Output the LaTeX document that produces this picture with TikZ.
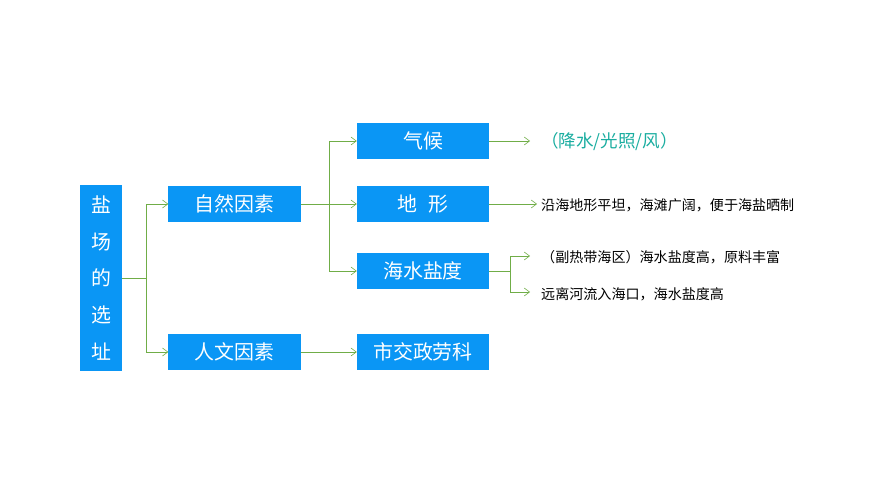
\documentclass[tikz,border=0pt]{standalone}
\usepackage{fontspec}
\setmainfont{Noto Sans CJK SC}
\usetikzlibrary{arrows.meta}
\definecolor{boxblue}{HTML}{0A96F5}
\definecolor{linegreen}{HTML}{70AD47}
\definecolor{noteteal}{HTML}{1AADA0}

\begin{document}
\begin{tikzpicture}[x=0.03cm,y=-0.03cm,>={Straight Barb[length=1.6mm,width=2.4mm]},
  box/.style={fill=boxblue,text=white,minimum width=3.96cm,minimum height=1.08cm,inner sep=0pt,font=\fontsize{17}{17}\selectfont},
  link/.style={draw=linegreen,line width=0.5pt},
  note/.style={anchor=west,inner sep=0pt,font=\fontsize{12}{12}\selectfont}]
  \useasboundingbox (0,0) rectangle (870,489);
  \node[box,minimum width=1.26cm,minimum height=5.55cm,align=center,font=\fontsize{17}{31.5}\selectfont] (root) at (101,278) {盐\\场\\的\\选\\址};
  \node[box] (nat) at (234.5,204) {自然因素};
  \node[box] (hum) at (234.5,352) {人文因素};
  \node[box] (cli) at (423,141) {气候};
  \node[box] (ter) at (423,204) {地\hspace{0.6em}形};
  \node[box] (sal) at (423,271) {海水盐度};
  \node[box] (soc) at (423,352) {市交政劳科};
  \node[note,text=noteteal,font=\fontsize{15}{15}\selectfont] (n1) at (541,142) {（降水/光照/风）};
  \node[note] (n2) at (541,205) {沿海地形平坦，海滩广阔，便于海盐晒制};
  \node[note] (n3) at (541,257) {（副热带海区）海水盐度高，原料丰富};
  \node[note] (n4) at (541,294) {远离河流入海口，海水盐度高};
  \coordinate (e1) at (530,141);
  \coordinate (e2) at (537,204);
  % branches
  \draw[link] (root.east) -- (146,278);
  \draw[link,->] (146,278) |- (nat.west);
  \draw[link,->] (146,278) |- (hum.west);
  \draw[link] (nat.east) -- (329,204);
  \draw[link,->] (329,204) |- (cli.west);
  \draw[link,->] (329,204) -- (ter.west);
  \draw[link,->] (329,204) |- (sal.west);
  \draw[link,->] (hum.east) -- (soc.west);
  \draw[link,->] (cli.east) -- (e1);
  \draw[link,->] (ter.east) -- (e2);
  \draw[link] (sal.east) -- (510,271);
  \draw[link,->] (510,271) |- (530,256);
  \draw[link,->] (510,271) |- (530,292);
\end{tikzpicture}
\end{document}
